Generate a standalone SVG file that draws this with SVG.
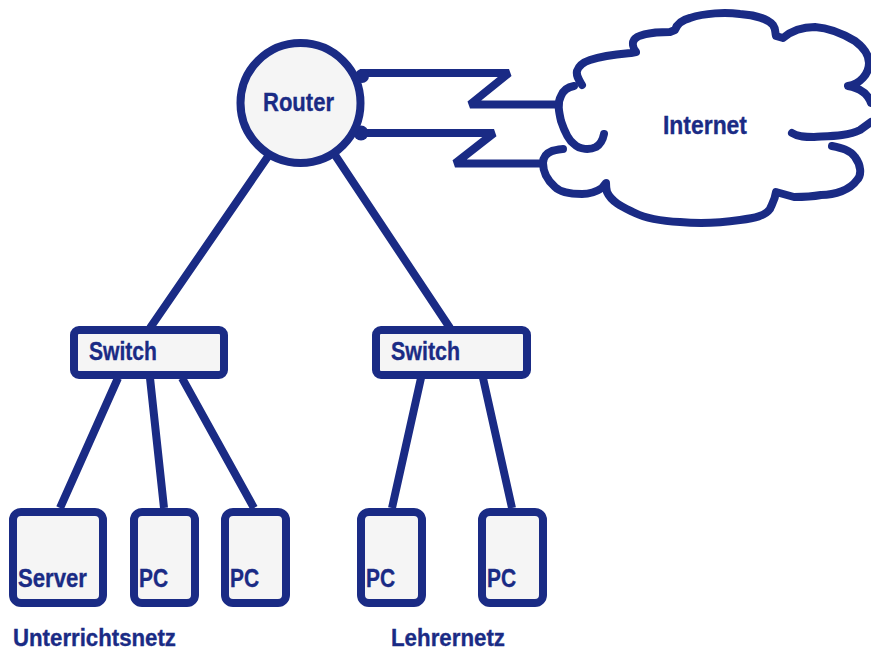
<svg xmlns="http://www.w3.org/2000/svg" width="871" height="651" viewBox="0 0 871 651">
<style>
.n{fill:#f5f5f5;stroke:#1a2b85;stroke-width:8}
.l{fill:none;stroke:#1a2b85;stroke-width:8;stroke-linecap:butt;stroke-linejoin:bevel}
.c{fill:none;stroke:#1a2b85;stroke-width:8;stroke-linecap:round;stroke-linejoin:round}
text{font-family:"Liberation Sans",Arial,sans-serif;font-weight:700;font-size:25px;fill:#1a2b85;stroke:#1a2b85;stroke-width:.35}
.b{font-size:23.500px}
</style>
<rect width="871" height="651" fill="#fff"/>
<g id="connectors">
<path class="l" d="M269 155L150 328M335 155L450 328M118 378L60 508M150 378L164 508M182 378L254 508M421 378L392 508M483 378L512 508"/>
<path class="l" d="M360 73H509L470 104.500H558"/>
<path class="l" d="M360 133H494L455 163.500H543"/>
<circle cx="362" cy="76" r="7" fill="#1a2b85"/>
<circle cx="361" cy="133" r="7.500" fill="#1a2b85"/>
</g>
<g id="router"><circle class="n" cx="300.500" cy="103" r="60"/><text x="263" y="111" textLength="71" lengthAdjust="spacingAndGlyphs">Router</text></g>
<g id="internet">
<path class="c" d="M582 85C579 80 576 76 577 71C579 65 584 62 590 60C605 55 620 54 631 53L636 52C633 48 632 43 634 40C637 35 650 32 670 32L675 30C677 24 682 20 690 18C705 13 725 12 740 14C755 15 768 19 773 25C776 29 775 33 776 36L783 38C790 32 800 27 815 27C830 28 845 35 855 41C863 47 869 55 869 63C869 74 860 84 848 86C860 88 868 94 871 103"/>
<path class="c" d="M792 133C798 137 806 137 814 137C830 136 848 136 860 130L871 122"/>
<path class="c" d="M832 146C842 148 850 150 855 157C861 165 862 175 857 180C850 190 835 195 821 195C810 197 800 197 794 197L776 192C775 200 772 204 770 209C765 216 755 218 740 220C720 223 700 224 680 222C660 221 645 218 635 213C625 208 612 203 607 192C606 188 606 185 606 183L602 188C596 192 590 194 582 194C570 194 560 192 555 187C547 180 543 172 543 163C543 157 547 153 552 151C556 150 560 149 563 149"/>
<path class="c" d="M574 86C568 87 563 91 561 96C557 103 559 112 561 121C564 130 568 140 574 144C580 150 590 150 596 147C601 144 603 139 604 134"/>
<text x="663" y="134" textLength="84" lengthAdjust="spacingAndGlyphs">Internet</text>
</g>
<g id="switch1"><rect class="n" x="74" y="330" width="150" height="45" rx="5"/><text x="89" y="360" textLength="68" lengthAdjust="spacingAndGlyphs">Switch</text></g>
<g id="switch2"><rect class="n" x="376" y="330" width="151" height="45" rx="5"/><text x="391" y="360" textLength="69" lengthAdjust="spacingAndGlyphs">Switch</text></g>
<g id="server"><rect class="n" x="13" y="512" width="90" height="91" rx="8"/><text x="18" y="587" textLength="69" lengthAdjust="spacingAndGlyphs">Server</text></g>
<g id="pc1"><rect class="n" x="134" y="512" width="61" height="91" rx="8"/><text x="139" y="587" textLength="29" lengthAdjust="spacingAndGlyphs">PC</text></g>
<g id="pc2"><rect class="n" x="225" y="512" width="61" height="91" rx="8"/><text x="230" y="587" textLength="29" lengthAdjust="spacingAndGlyphs">PC</text></g>
<g id="pc3"><rect class="n" x="361" y="512" width="61" height="91" rx="8"/><text x="366" y="587" textLength="29" lengthAdjust="spacingAndGlyphs">PC</text></g>
<g id="pc4"><rect class="n" x="482" y="512" width="61" height="91" rx="8"/><text x="487" y="587" textLength="29" lengthAdjust="spacingAndGlyphs">PC</text></g>
<text class="b" x="13" y="645.500" textLength="163" lengthAdjust="spacingAndGlyphs">Unterrichtsnetz</text>
<text class="b" x="391" y="645.500" textLength="114" lengthAdjust="spacingAndGlyphs">Lehrernetz</text>
</svg>
